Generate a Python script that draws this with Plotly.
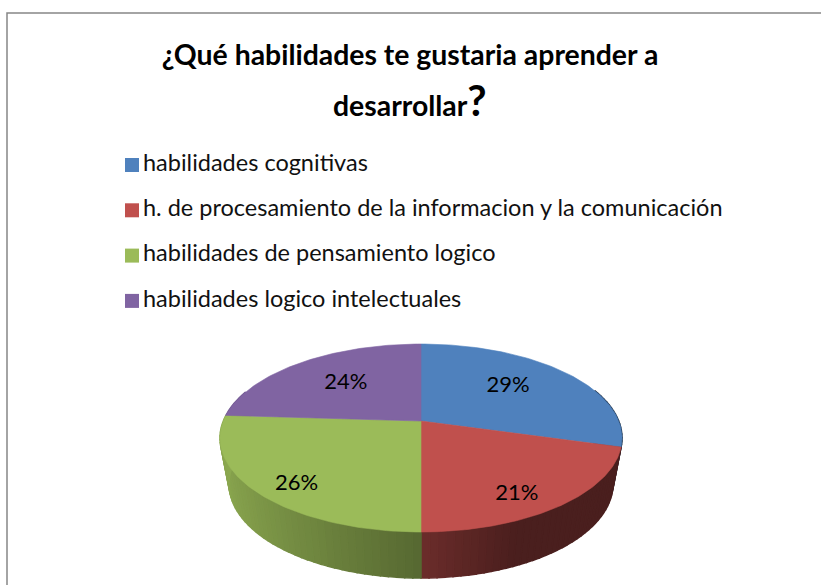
"""
plot.py - 3D looking pie of the skills survey, drawn with filled scatter polygons.
"""

import numpy as np
import plotly.graph_objects as go

TITLE_LINE_1 = "¿Qué habilidades te gustaria aprender a"
TITLE_LINE_2 = "desarrollar"
CATEGORIES = [
    "habilidades cognitivas",
    "h. de procesamiento de la informacion y la comunicación",
    "habilidades de pensamiento logico",
    "habilidades logico intelectuales",
]
VALUES = [29.4, 20.6, 26.0, 24.0]
COLORS = ["#4F81BD", "#C0504D", "#9BBB59", "#8064A2"]

FONT = "Lato, Carlito, sans-serif"
W, H = 821, 585

# pie geometry, in page pixels
CX, CY = 421, 421
RX = 197.7
RY = 90.9
PERSP = 0.181
DEPTH = 46
BOTTOM_SHRINK = 0.955
LABEL_RADIUS = [0.63, 0.82, 0.78, 0.60]
LABEL_NUDGE = [(-6, -2), (-15, 6), (0, 10), (0, -1)]

# side wall shading against horizontal position (-1 left edge, 1 right edge)
SHADE_POS = [-1, 0, 0.4, 1]
SHADE_FACTOR = [0.90, 0.56, 0.39, 0.39]


def project(theta, r=1.0):
    u = r * np.sin(theta)
    v = -r * np.cos(theta)
    d = 1 - PERSP * v
    return CX + RX * u / d, CY + RY * v / d


def rim_bottom(theta):
    x, y = project(theta)
    return CX + (x - CX) * BOTTOM_SHRINK, y + DEPTH


def shade(hex_color, theta):
    f = np.interp(np.sin(theta), SHADE_POS, SHADE_FACTOR)
    rgb = [int(hex_color[i:i + 2], 16) for i in (1, 3, 5)]
    return "rgb({},{},{})".format(*[int(c * f) for c in rgb])


def polygon(x, y, color, width=0.6):
    return go.Scatter(
        x=list(x), y=list(y), mode="lines", fill="toself", fillcolor=color,
        line=dict(color=color, width=width), hoverinfo="skip", showlegend=False,
    )


fig = go.Figure()

edges = 2 * np.pi * np.concatenate([[0], np.cumsum(VALUES)]) / sum(VALUES)

# side wall first, the top face then covers the back of it
for i, color in enumerate(COLORS):
    steps = max(2, int(np.degrees(edges[i + 1] - edges[i]) / 2))
    t = np.linspace(edges[i], edges[i + 1], steps + 1)
    for a, b in zip(t[:-1], t[1:]):
        mid = (a + b) / 2
        if np.cos(mid) > 0.35:
            continue
        xa, ya = project(a)
        xb, yb = project(b)
        xc, yc = rim_bottom(b)
        xd, yd = rim_bottom(a)
        fig.add_trace(polygon([xa, xb, xc, xd, xa], [ya, yb, yc, yd, ya], shade(color, mid), width=1.5))

# top face
for i, color in enumerate(COLORS):
    t = np.linspace(edges[i], edges[i + 1], 80)
    x, y = project(t)
    fig.add_trace(polygon(np.r_[CX, x, CX], np.r_[CY, y, CY], color))

# percent labels
for i, val in enumerate(VALUES):
    lx, ly = project((edges[i] + edges[i + 1]) / 2, LABEL_RADIUS[i])
    fig.add_trace(go.Scatter(
        x=[lx + LABEL_NUDGE[i][0]], y=[ly + LABEL_NUDGE[i][1]], mode="text", text=[f"{val:.0f}%"],
        textfont=dict(family=FONT, size=22, color="#000000"),
        hoverinfo="skip", showlegend=False,
    ))

# key, one row per category
for i, (cat, color) in enumerate(zip(CATEGORIES, COLORS)):
    row_y = 165 + i * 45.3
    fig.add_trace(go.Scatter(
        x=[132], y=[row_y], mode="markers",
        marker=dict(symbol="square", size=14, color=color),
        hoverinfo="skip", showlegend=False,
    ))
    fig.add_trace(go.Scatter(
        x=[143], y=[row_y], mode="text", text=[cat], textposition="middle right",
        textfont=dict(family=FONT, size=23.5, color="#111111"),
        hoverinfo="skip", showlegend=False,
    ))

fig.update_layout(
    width=W, height=H, margin=dict(l=0, r=0, t=0, b=0),
    paper_bgcolor="white", plot_bgcolor="white", showlegend=False,
    xaxis=dict(range=[0, W], visible=False),
    yaxis=dict(range=[H, 0], visible=False),
    title=dict(
        text=f"<b>{TITLE_LINE_1}</b>", x=410 / W, xanchor="center",
        y=1 - 55 / H, yanchor="middle",
        font=dict(family=FONT, size=28.4, color="#000000"),
    ),
    shapes=[dict(type="rect", x0=7, y0=13, x1=W + 20, y1=H + 20,
                 line=dict(color="#868686", width=1.5), layer="below")],
    annotations=[dict(
        text=f'<b>{TITLE_LINE_2}<span style="font-size:42px">?</span></b>',
        x=410, y=100, xref="x", yref="y", showarrow=False,
        xanchor="center", yanchor="middle",
        font=dict(family=FONT, size=28.4, color="#000000"),
    )],
)

fig.write_html("out.html", post_script="document.body.style.margin='0';",
               config={"displayModeBar": False})
